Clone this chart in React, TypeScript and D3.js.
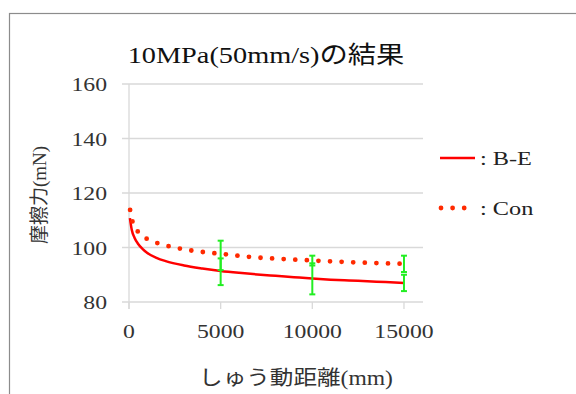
import React from "react";
import * as d3 from "d3";

const title = "10MPa(50mm/s)の結果";
const xTitle = "しゅう動距離(mm)";
const yTitle = "摩擦力(mN)";
const xTicks = [0, 5000, 10000, 15000];
const yTicks = [80, 100, 120, 140, 160];
const seriesNames = [": B-E", ": Con"];

// B-E (solid line)
const beX = [50, 150, 300, 500, 750, 1000, 1500, 2000, 3000, 4000, 5000, 6000, 7000, 8000, 9000, 10000, 11000, 12000, 13000, 14000, 15000];
const beY = [110.8, 106.5, 103.6, 101.3, 99.4, 98.0, 96.2, 95.0, 93.4, 92.3, 91.4, 90.7, 90.1, 89.6, 89.1, 88.6, 88.2, 87.9, 87.6, 87.3, 87.0];

// Con (dotted line)
const conX = [60, 200, 500, 1000, 1600, 2500, 3500, 5000, 6500, 8000, 9500, 11000, 12500, 14000, 15000];
const conY = [113.8, 109.3, 105.7, 103.1, 101.5, 100.0, 98.8, 97.7, 96.6, 95.9, 95.4, 94.9, 94.5, 94.2, 94.0];

// error bars
const errX = [5000, 10000, 15000];
const errBeMean = [91.1, 88.5, 87.0];
const errBe = [4.9, 5.7, 3.0];
const errConMean = [97.1, 95.2, 94.0];
const errCon = [5.4, 1.8, 3.0];

const serif = "'Liberation Serif', 'Noto Sans CJK JP', serif";

function T(props: {
  x: number;
  y: number;
  size: number;
  sx?: number;
  anchor?: "start" | "middle" | "end";
  fill?: string;
  children: React.ReactNode;
}) {
  const { x, y, size, sx = 1.32, anchor = "start", fill = "#333", children } = props;
  return (
    <text
      transform={`translate(${x},${y}) scale(${sx},1)`}
      textAnchor={anchor}
      fontFamily={serif}
      fontSize={size}
      fill={fill}
    >
      {children}
    </text>
  );
}

export default function App() {
  const x = d3.scaleLinear().domain([0, 16000]).range([129, 422.3]);
  const y = d3.scaleLinear().domain([80, 160]).range([302, 84]);
  const line = d3
    .line<[number, number]>()
    .x((d) => x(d[0]))
    .y((d) => y(d[1]))
    .curve(d3.curveMonotoneX);
  const beData: [number, number][] = beX.map((v, i) => [v, beY[i]]);
  const conData: [number, number][] = conX.map((v, i) => [v, conY[i]]);
  const green = "#22ee22";
  const bars = (mean: number[], err: number[]) =>
    errX.map((xv, i) => {
      const cx = x(xv);
      const t = y(mean[i] + err[i]);
      const b = y(mean[i] - err[i]);
      return (
        <g key={i} stroke={green} strokeWidth={2}>
          <line x1={cx} x2={cx} y1={t} y2={b} />
          <line x1={cx - 3} x2={cx + 3} y1={t} y2={t} />
          <line x1={cx - 3} x2={cx + 3} y1={b} y2={b} />
        </g>
      );
    });
  return (
    <svg
      width={576}
      height={394}
      style={{ position: "absolute", left: 0, top: 0, background: "#fff" }}
    >
      <rect x={9.5} y={13.5} width={600} height={420} fill="#fff" stroke="#8c8c8c" strokeWidth={1.2} />
      <T x={266} y={63} size={24} sx={1.18} anchor="middle" fill="#111">
        {title}
      </T>
      {yTicks.map((t) => (
        <g key={t}>
          <line x1={122} x2={423} y1={y(t)} y2={y(t)} stroke="#d9d9d9" strokeWidth={1.3} />
          <T x={107} y={y(t) + 7} size={18} anchor="end">
            {t}
          </T>
        </g>
      ))}
      <line x1={129} x2={129} y1={84} y2={309} stroke="#d9d9d9" strokeWidth={1.3} />
      {xTicks.map((t) => (
        <g key={t}>
          <line x1={x(t)} x2={x(t)} y1={302} y2={309} stroke="#d9d9d9" strokeWidth={1.3} />
          <T x={x(t)} y={338} size={18} anchor="middle">
            {t}
          </T>
        </g>
      ))}
      <T x={296} y={385} size={20} sx={1.18} anchor="middle">
        {xTitle}
      </T>
      <text
        transform={`translate(46,195) rotate(-90)`}
        textAnchor="middle"
        fontFamily={serif}
        fontSize={19}
        fill="#333"
      >
        {yTitle}
      </text>
      <path d={line(beData) || ""} fill="none" stroke="#ff0000" strokeWidth={2.5} />
      <path
        d={line(conData) || ""}
        fill="none"
        stroke="#ff2a00"
        strokeWidth={4.8}
        strokeLinecap="round"
        strokeDasharray="0 11.6"
      />
      {bars(errConMean, errCon)}
      {bars(errBeMean, errBe)}
      <line x1={440} x2={475} y1={158} y2={158} stroke="#ff0000" strokeWidth={2.5} />
      <T x={480} y={165} size={18} sx={1.35} fill="#222">
        {seriesNames[0]}
      </T>
      <line
        x1={441}
        x2={470}
        y1={208}
        y2={208}
        stroke="#ff2a00"
        strokeWidth={4.8}
        strokeLinecap="round"
        strokeDasharray="0 11.6"
      />
      <T x={480} y={215} size={18} sx={1.35} fill="#222">
        {seriesNames[1]}
      </T>
    </svg>
  );
}
